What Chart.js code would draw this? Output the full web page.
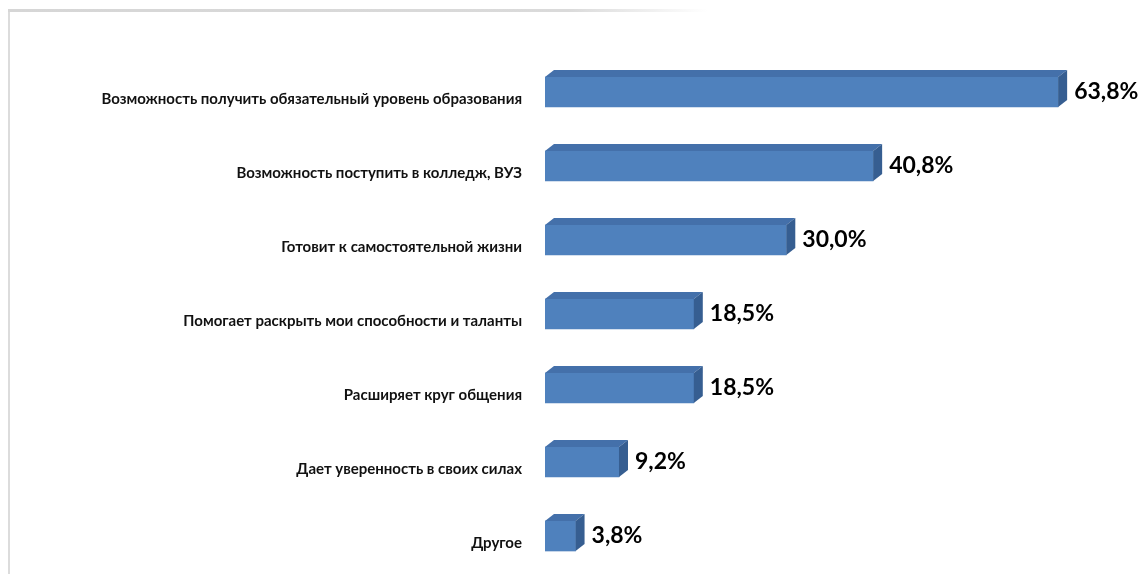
<!DOCTYPE html>
<html>
<head>
<meta charset="utf-8">
<script src="https://cdn.jsdelivr.net/npm/chart.js@4.4.1/dist/chart.umd.min.js"></script>
<style>
  html, body { margin: 0; padding: 0; background: #fff; }
  #wrap { position: relative; width: 1145px; height: 574px; overflow: hidden; }
  #frameL { position: absolute; left: 8px; top: 10px; width: 2px; height: 570px; background: #dcdcdc; }
  #frameT { position: absolute; left: 8px; top: 9px; width: 700px; height: 3px;
            background: linear-gradient(to right, #d6d6d6 0%, #dadada 80%, rgba(230,230,230,0) 100%); }
  canvas { position: absolute; left: 0; top: 0; }
</style>
</head>
<body>
<div id="wrap">
  <div id="frameL"></div>
  <div id="frameT"></div>
  <canvas id="c" width="1145" height="574"></canvas>
</div>
<script>
const categories = [
  "Возможность получить обязательный уровень образования",
  "Возможность поступить в колледж, ВУЗ",
  "Готовит к самостоятельной жизни",
  "Помогает раскрыть мои способности и таланты",
  "Расширяет круг общения",
  "Дает уверенность в своих силах",
  "Другое"
];
const values = [63.8, 40.8, 30.0, 18.5, 18.5, 9.2, 3.8];

const DX = 9, DY = 7;
const bar3d = {
  id: 'bar3d',
  afterDatasetsDraw(chart) {
    const ctx = chart.ctx;
    const meta = chart.getDatasetMeta(0);
    ctx.save();
    meta.data.forEach((bar, i) => {
      const p = bar.getProps(['x', 'y', 'base', 'height'], true);
      const top = p.y - p.height / 2, bot = p.y + p.height / 2;
      ctx.beginPath();
      ctx.moveTo(p.base, top);
      ctx.lineTo(p.x, top);
      ctx.lineTo(p.x + DX, top - DY);
      ctx.lineTo(p.base + DX, top - DY);
      ctx.closePath();
      ctx.fillStyle = '#4470aa';
      ctx.fill();
      ctx.beginPath();
      ctx.moveTo(p.x, top);
      ctx.lineTo(p.x + DX, top - DY);
      ctx.lineTo(p.x + DX, bot - DY);
      ctx.lineTo(p.x, bot);
      ctx.closePath();
      ctx.fillStyle = '#365e91';
      ctx.fill();
      ctx.fillStyle = '#000';
      ctx.font = 'bold 23px Lato';
      ctx.textAlign = 'left';
      ctx.textBaseline = 'middle';
      ctx.fillText(values[i].toFixed(1).replace('.', ',') + '%', p.x + DX + 7, p.y);
    });
    ctx.restore();
  }
};

new Chart(document.getElementById('c'), {
  type: 'bar',
  data: {
    labels: categories,
    datasets: [{
      data: values,
      backgroundColor: '#4f81bd',
      borderWidth: 0,
      barThickness: 30
    }]
  },
  options: {
    indexAxis: 'y',
    responsive: false,
    animation: false,
    layout: { padding: { left: 0, right: 37, top: 55, bottom: 1 } },
    plugins: { legend: { display: false }, tooltip: { enabled: false } },
    scales: {
      x: { display: false, min: 0, max: 70 },
      y: {
        grid: { display: false, drawTicks: false },
        border: { display: false },
        ticks: {
          color: '#111',
          font: { family: 'Lato', weight: 'bold', size: 15 },
          padding: 23,
          labelOffset: 7
        },
        afterFit(scale) {
          scale.width = 545;
          scale.paddingTop = 0;
          scale.paddingBottom = 0;
        }
      }
    }
  },
  plugins: [bar3d]
});
</script>
</body>
</html>
